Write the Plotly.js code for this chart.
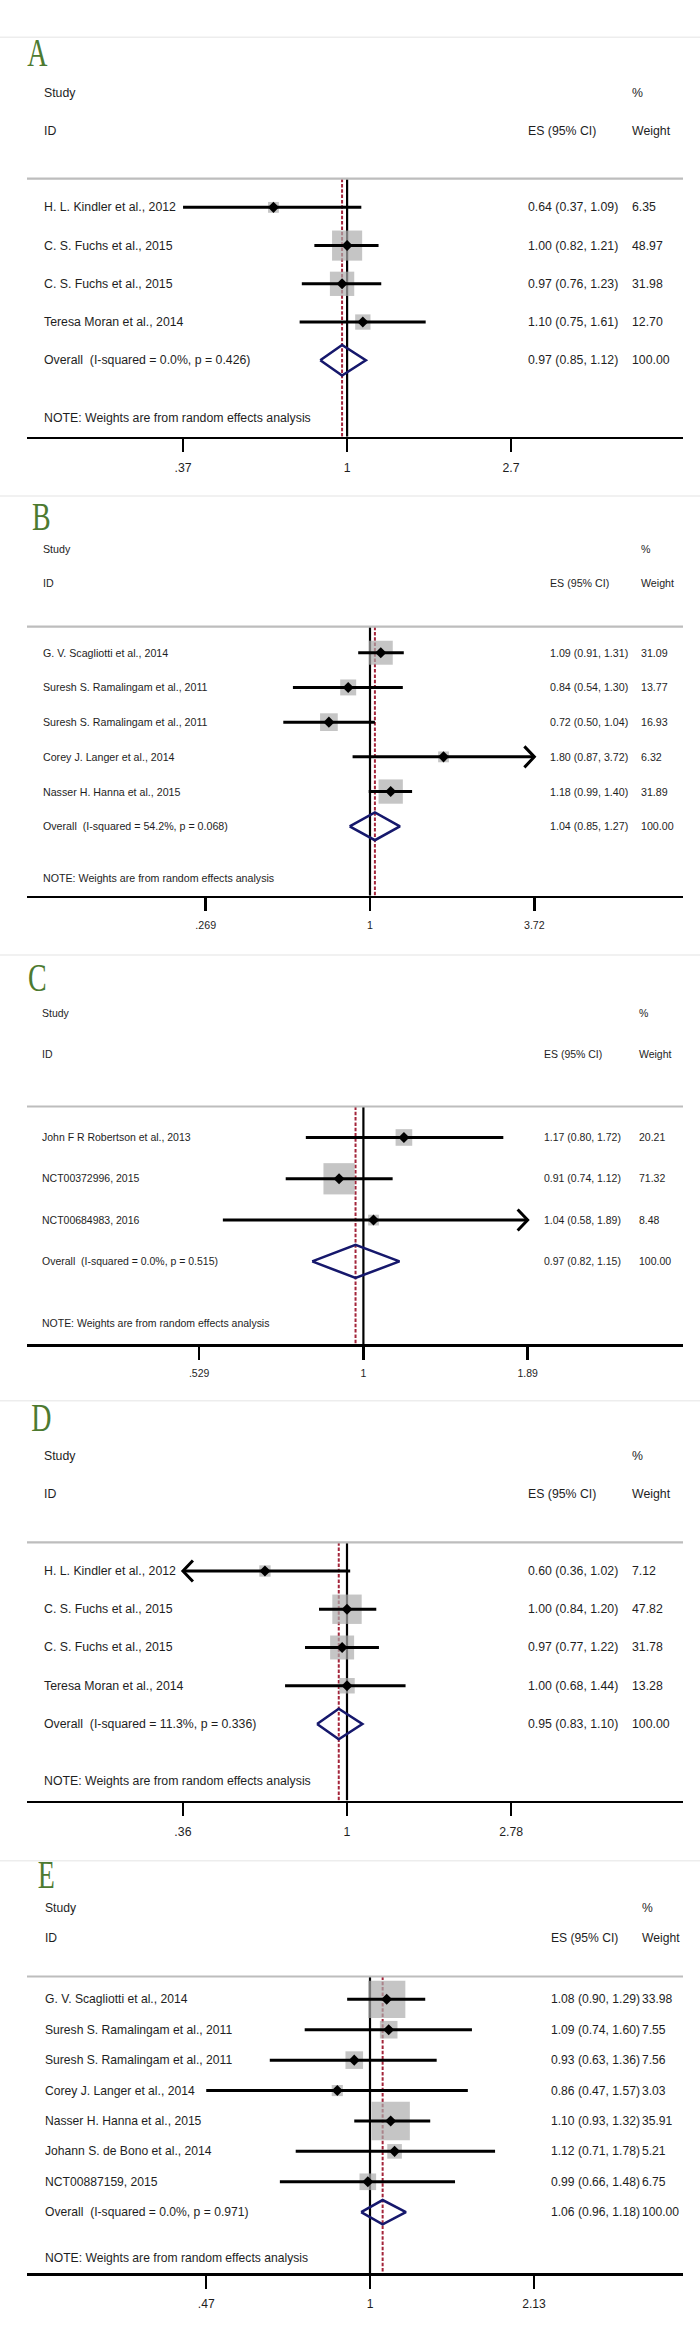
<!DOCTYPE html>
<html><head><meta charset="utf-8">
<script src="https://cdn.plot.ly/plotly-3.0.1.min.js"></script>
<style>html,body{margin:0;padding:0;background:#fff}#chart{width:700px;height:2333px}</style>
</head><body><div id="chart"></div>
<script>
// ================= DATA =================
// Panel A
const A_study = ['H. L. Kindler et al., 2012','C. S. Fuchs et al., 2015','C. S. Fuchs et al., 2015','Teresa Moran et al., 2014'];
const A_es = [0.64, 1.00, 0.97, 1.10];
const A_lo = [0.37, 0.82, 0.76, 0.75];
const A_hi = [1.09, 1.21, 1.23, 1.61];
const A_weight = [6.35, 48.97, 31.98, 12.70];
const A_trunc = [0, 0, 0, 0];
const A_overall = [0.97, 0.85, 1.12];
const A_overallLabel = 'Overall  (I-squared = 0.0%, p = 0.426)';
const A_ticks = [0.37, 1, 2.7];
const A_tickText = ['.37', '1', '2.7'];

// Panel B
const B_study = ['G. V. Scagliotti et al., 2014','Suresh S. Ramalingam et al., 2011','Suresh S. Ramalingam et al., 2011','Corey J. Langer et al., 2014','Nasser H. Hanna et al., 2015'];
const B_es = [1.09, 0.84, 0.72, 1.80, 1.18];
const B_lo = [0.91, 0.54, 0.50, 0.87, 0.99];
const B_hi = [1.31, 1.30, 1.04, 3.72, 1.40];
const B_weight = [31.09, 13.77, 16.93, 6.32, 31.89];
const B_trunc = [0, 0, 0, 1, 0];
const B_overall = [1.04, 0.85, 1.27];
const B_overallLabel = 'Overall  (I-squared = 54.2%, p = 0.068)';
const B_ticks = [0.269, 1, 3.72];
const B_tickText = ['.269', '1', '3.72'];

// Panel C
const C_study = ['John F R Robertson et al., 2013','NCT00372996, 2015','NCT00684983, 2016'];
const C_es = [1.17, 0.91, 1.04];
const C_lo = [0.80, 0.74, 0.58];
const C_hi = [1.72, 1.12, 1.89];
const C_weight = [20.21, 71.32, 8.48];
const C_trunc = [0, 0, 1];
const C_overall = [0.97, 0.82, 1.15];
const C_overallLabel = 'Overall  (I-squared = 0.0%, p = 0.515)';
const C_ticks = [0.529, 1, 1.89];
const C_tickText = ['.529', '1', '1.89'];

// Panel D
const D_study = ['H. L. Kindler et al., 2012','C. S. Fuchs et al., 2015','C. S. Fuchs et al., 2015','Teresa Moran et al., 2014'];
const D_es = [0.60, 1.00, 0.97, 1.00];
const D_lo = [0.36, 0.84, 0.77, 0.68];
const D_hi = [1.02, 1.20, 1.22, 1.44];
const D_weight = [7.12, 47.82, 31.78, 13.28];
const D_trunc = [-1, 0, 0, 0];
const D_overall = [0.95, 0.83, 1.10];
const D_overallLabel = 'Overall  (I-squared = 11.3%, p = 0.336)';
const D_ticks = [0.36, 1, 2.78];
const D_tickText = ['.36', '1', '2.78'];

// Panel E
const E_study = ['G. V. Scagliotti et al., 2014','Suresh S. Ramalingam et al., 2011','Suresh S. Ramalingam et al., 2011','Corey J. Langer et al., 2014','Nasser H. Hanna et al., 2015','Johann S. de Bono et al., 2014','NCT00887159, 2015'];
const E_es = [1.08, 1.09, 0.93, 0.86, 1.10, 1.12, 0.99];
const E_lo = [0.90, 0.74, 0.63, 0.47, 0.93, 0.71, 0.66];
const E_hi = [1.29, 1.60, 1.36, 1.57, 1.32, 1.78, 1.48];
const E_weight = [33.98, 7.55, 7.56, 3.03, 35.91, 5.21, 6.75];
const E_trunc = [0, 0, 0, 0, 0, 0, 0];
const E_overall = [1.06, 0.96, 1.18];
const E_overallLabel = 'Overall  (I-squared = 0.0%, p = 0.971)';
const E_ticks = [0.47, 1, 2.13];
const E_tickText = ['.47', '1', '2.13'];

const panelLetters = ['A', 'B', 'C', 'D', 'E'];
const noteText = 'NOTE: Weights are from random effects analysis';

// ================= LAYOUT / STYLE (pixels) =================
const W = 700, H = 2333;
const geom = [
  {top: 37.3,  letterX: 37.5, letterY: 50,     gray: 178.7,  axis: 436.7,  one: 347.1, pxln: 165.0, font: 15,   nameX: 41.5, esX: 525.5, wX: 630,   box: 4.3},
  {top: 496,   letterX: 41,   letterY: 513.5,  gray: 626.7,  axis: 895.7,  one: 370.0, pxln: 125.1, font: 13,   nameX: 41,   esX: 548,   wX: 639,   box: 4.3},
  {top: 955,   letterX: 37,   letterY: 974.5,  gray: 1106.5, axis: 1344,   one: 363.4, pxln: 258.0, font: 12.8, nameX: 40,   esX: 541.5, wX: 636.6, box: 3.7},
  {top: 1400.7,letterX: 41,   letterY: 1414,   gray: 1542.3, axis: 1800.5, one: 347.0, pxln: 160.6, font: 15,   nameX: 41.5, esX: 525.5, wX: 630,   box: 4.25},
  {top: 1860.7,letterX: 45.5, letterY: 1871.5, gray: 1976.5, axis: 2273,   one: 370.0, pxln: 216.9, font: 14.8, nameX: 43.3, esX: 549,   wX: 640,   box: 6.4}
];
const AX_L = 27, AX_R = 683;

function hasFont(name) {
  const c = document.createElement('canvas').getContext('2d');
  const s = 'abcdefghijklmnopqrstuvwxyz0123456789';
  c.font = '40px monospace'; const w1 = c.measureText(s).width;
  c.font = '40px "' + name + '", monospace'; const w2 = c.measureText(s).width;
  return Math.abs(w1 - w2) > 0.5;
}
const narrow = hasFont('Liberation Sans Narrow');
const FAM = narrow ? '"Liberation Sans Narrow", "Arial Narrow", sans-serif' : '"Liberation Sans", Arial, sans-serif';
const FSCALE = narrow ? 1 : 0.82;
const TXT = '#1e1e1e';

const panels = [
  {study: A_study, es: A_es, lo: A_lo, hi: A_hi, w: A_weight, trunc: A_trunc, ov: A_overall, ovLabel: A_overallLabel, ticks: A_ticks, tickText: A_tickText},
  {study: B_study, es: B_es, lo: B_lo, hi: B_hi, w: B_weight, trunc: B_trunc, ov: B_overall, ovLabel: B_overallLabel, ticks: B_ticks, tickText: B_tickText},
  {study: C_study, es: C_es, lo: C_lo, hi: C_hi, w: C_weight, trunc: C_trunc, ov: C_overall, ovLabel: C_overallLabel, ticks: C_ticks, tickText: C_tickText},
  {study: D_study, es: D_es, lo: D_lo, hi: D_hi, w: D_weight, trunc: D_trunc, ov: D_overall, ovLabel: D_overallLabel, ticks: D_ticks, tickText: D_tickText},
  {study: E_study, es: E_es, lo: E_lo, hi: E_hi, w: E_weight, trunc: E_trunc, ov: E_overall, ovLabel: E_overallLabel, ticks: E_ticks, tickText: E_tickText}
];

const fmt = v => v.toFixed(2);
const esStr = (e, l, h) => fmt(e) + ' (' + fmt(l) + ', ' + fmt(h) + ')';
const keepSpaces = s => s.replace(/  /g, ' \u00a0');

const traces = [], annotations = [], shapes = [];
const layout = {
  width: W, height: H, margin: {l: 0, r: 0, t: 0, b: 0},
  paper_bgcolor: '#fff', plot_bgcolor: 'rgba(0,0,0,0)',
  showlegend: false, hovermode: false
};

panels.forEach((p, i) => {
  const g = geom[i];
  const sfx = i === 0 ? '' : String(i + 1);
  const xa = 'x' + sfx, ya = 'y' + sfx;
  const n = p.study.length;
  const rows = p.study.map((_, j) => j + 1);
  const oRow = n + 1, noteRow = n + 2.5, yTop = 0.25, yBot = n + 3;
  const rowPx = (g.axis - g.gray) / (yBot - yTop);
  const rowToPaper = r => 1 - (g.gray + (r - yTop) * rowPx) / H;
  const lo10 = (AX_L - g.one) / g.pxln / Math.LN10;
  const hi10 = (AX_R - g.one) / g.pxln / Math.LN10;
  const fs = g.font * FSCALE;
  const font = {family: FAM, size: fs, color: TXT};

  layout['xaxis' + sfx] = {
    domain: [AX_L / W, AX_R / W], type: 'log', range: [lo10, hi10], anchor: ya,
    showline: true, linecolor: '#000', linewidth: 2.5, mirror: false,
    ticks: 'outside', ticklen: 13, tickwidth: 2.5, tickcolor: '#000',
    tickmode: 'array', tickvals: p.ticks, ticktext: p.tickText, tickfont: font,
    ticklabelstandoff: 5,
    showgrid: false, zeroline: false, fixedrange: true
  };
  layout['yaxis' + sfx] = {
    domain: [1 - g.axis / H, 1 - g.gray / H], range: [yBot, yTop], anchor: xa,
    visible: false, showgrid: false, zeroline: false, fixedrange: true
  };

  const base = {xaxis: xa, yaxis: ya, hoverinfo: 'skip', cliponaxis: false, type: 'scatter'};
  // null line
  traces.push(Object.assign({}, base, {x: [1, 1], y: [yTop, yBot], mode: 'lines', line: {color: '#000', width: 2.2}}));
  // overall effect dashed line
  traces.push(Object.assign({}, base, {x: [p.ov[0], p.ov[0]], y: [yTop, yBot], mode: 'lines', line: {color: '#a3243a', width: 2, dash: '3.5px,1.8px'}}));
  // weight boxes
  traces.push(Object.assign({}, base, {x: p.es, y: rows, mode: 'markers',
    marker: {symbol: 'square', size: p.w.map(v => g.box * Math.sqrt(v)), color: '#adadad', line: {width: 0}}}));
  // CI lines
  const cx = [], cy = [];
  p.lo.forEach((l, j) => { cx.push(l, p.hi[j], null); cy.push(rows[j], rows[j], null); });
  traces.push(Object.assign({}, base, {x: cx, y: cy, mode: 'lines', line: {color: '#000', width: 3}}));
  // arrows for truncated CIs
  const axp = [], ayp = [];
  const dx10 = 10 / g.pxln / Math.LN10, dyr = 10.5 / rowPx;
  p.trunc.forEach((t, j) => {
    if (t === 0) return;
    const tip = t > 0 ? p.hi[j] : p.lo[j];
    const back = Math.pow(10, Math.log10(tip) - t * dx10);
    axp.push(back, tip, back, null); ayp.push(rows[j] - dyr, rows[j], rows[j] + dyr, null);
  });
  if (axp.length) traces.push(Object.assign({}, base, {x: axp, y: ayp, mode: 'lines', line: {color: '#000', width: 3}}));
  // point estimates
  traces.push(Object.assign({}, base, {x: p.es, y: rows, mode: 'markers', marker: {symbol: 'diamond', size: 8.5, color: '#000', line: {width: 0}}}));
  // overall diamond
  const o = p.ov;
  traces.push(Object.assign({}, base, {x: [o[1], o[0], o[2], o[0], o[1]], y: [oRow, oRow - 0.4, oRow, oRow + 0.4, oRow],
    mode: 'lines', line: {color: '#16186c', width: 2.6}}));

  // shapes: panel top border and header separator
  shapes.push({type: 'line', xref: 'paper', yref: 'paper', x0: 0, x1: 1, y0: 1 - g.top / H, y1: 1 - g.top / H, line: {color: '#ededed', width: 1.5}});
  shapes.push({type: 'line', xref: 'paper', yref: 'paper', x0: AX_L / W, x1: AX_R / W, y0: 1 - g.gray / H, y1: 1 - g.gray / H, line: {color: '#bdbdbd', width: 2.2}});

  // text (paper coordinates derived from the panel's row scale)
  const ann = (txt, x, r) => annotations.push({
    text: txt, xref: 'paper', x: x / W, yref: 'paper', y: rowToPaper(r), xanchor: 'left', yanchor: 'middle',
    showarrow: false, font: font, align: 'left'
  });
  ann('Study', g.nameX, -2);
  ann('ID', g.nameX, -1);
  ann('%', g.wX, -2);
  ann('ES (95% CI)', g.esX, -1);
  ann('Weight', g.wX, -1);
  p.study.forEach((s, j) => {
    ann(s, g.nameX, rows[j]);
    ann(esStr(p.es[j], p.lo[j], p.hi[j]), g.esX, rows[j]);
    ann(fmt(p.w[j]), g.wX, rows[j]);
  });
  ann(keepSpaces(p.ovLabel), g.nameX, oRow);
  ann(esStr(o[0], o[1], o[2]), g.esX, oRow);
  ann(fmt(100), g.wX, oRow);
  ann(noteText, g.nameX, noteRow);

  // panel letter
  annotations.push({text: panelLetters[i], xref: 'paper', yref: 'paper', x: g.letterX / W, y: 1 - (g.letterY + 3) / H,
    xanchor: 'center', yanchor: 'middle', showarrow: false,
    font: {family: '"Liberation Serif", "DejaVu Serif", serif', size: 40, color: '#4d7a30'}});
});

layout.annotations = annotations;
layout.shapes = shapes;

Plotly.newPlot('chart', traces, layout, {staticPlot: true, displayModeBar: false}).then(gd => {
  // narrow the serif panel letters to match the condensed lettering
  gd.querySelectorAll('.annotation-text').forEach(t => {
    if (panelLetters.indexOf(t.textContent) >= 0) {
      const b = t.getBBox();
      const cx = b.x + b.width / 2;
      t.setAttribute('transform', 'translate(' + cx + ',0) scale(0.7,1) translate(' + (-cx) + ',0)');
    }
  });
});
</script>
</body></html>
